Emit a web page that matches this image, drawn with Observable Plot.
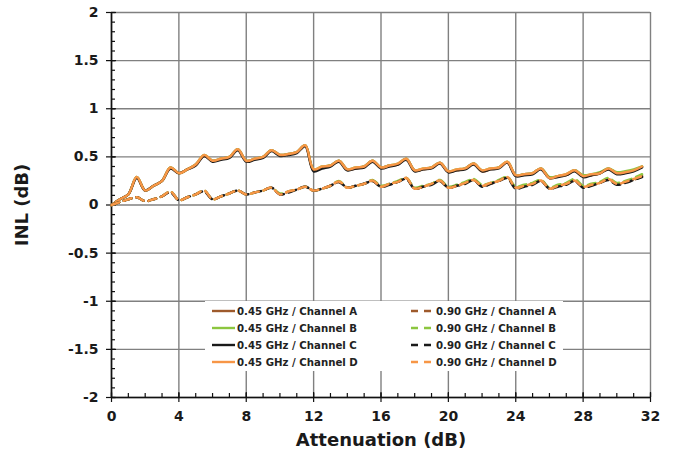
<!DOCTYPE html>
<html><head><meta charset="utf-8">
<script src="https://cdn.jsdelivr.net/npm/d3@7"></script>
<script src="https://cdn.jsdelivr.net/npm/@observablehq/plot@0.6"></script>
<style>
body{margin:0;background:#fff;}
#wrap{position:relative;width:676px;height:460px;}
#legend{position:absolute;left:205px;top:301px;width:358px;height:70px;background:#fff;font-family:"DejaVu Sans",sans-serif;font-weight:bold;font-size:10.2px;color:#222;}
.item{position:absolute;display:flex;align-items:center;height:17px;white-space:nowrap;}
.item svg{margin-right:1px;display:block}
</style></head><body><div id="wrap"><div id="chart"></div><div id="legend"></div></div>
<script>
const attenuation = [0,0.5,1,1.5,2,2.5,3,3.5,4,4.5,5,5.5,6,6.5,7,7.5,8,8.5,9,9.5,10,10.5,11,11.5,12,12.5,13,13.5,14,14.5,15,15.5,16,16.5,17,17.5,18,18.5,19,19.5,20,20.5,21,21.5,22,22.5,23,23.5,24,24.5,25,25.5,26,26.5,27,27.5,28,28.5,29,29.5,30,30.5,31,31.5];

const a045 = [0.00,0.06,0.11,0.29,0.15,0.20,0.25,0.39, 0.33,0.37,0.42,0.51,0.46,0.48,0.50,0.58, 0.46,0.48,0.50,0.57,0.52,0.53,0.55,0.62, 0.36,0.39,0.41,0.46,0.37,0.38,0.40,0.46, 0.39,0.41,0.42,0.48,0.36,0.37,0.39,0.44, 0.35,0.36,0.38,0.43,0.35,0.37,0.39,0.44, 0.31,0.32,0.33,0.38,0.28,0.30,0.31,0.36, 0.30,0.31,0.33,0.38,0.33,0.34,0.36,0.40];
const b045 = [0.00,0.06,0.11,0.29,0.15,0.20,0.25,0.39, 0.33,0.37,0.42,0.52,0.46,0.48,0.50,0.58, 0.46,0.48,0.50,0.57,0.52,0.53,0.55,0.62, 0.37,0.40,0.41,0.46,0.37,0.39,0.40,0.46, 0.39,0.41,0.43,0.48,0.36,0.38,0.39,0.44, 0.35,0.37,0.38,0.43,0.36,0.38,0.39,0.45, 0.31,0.32,0.33,0.38,0.29,0.30,0.32,0.36, 0.31,0.32,0.34,0.38,0.34,0.35,0.37,0.40];
const c045 = [0.00,0.06,0.11,0.28,0.15,0.20,0.25,0.38, 0.33,0.37,0.41,0.51,0.45,0.47,0.49,0.57, 0.45,0.47,0.49,0.56,0.51,0.52,0.54,0.61, 0.35,0.38,0.40,0.45,0.36,0.38,0.39,0.45, 0.38,0.40,0.42,0.47,0.35,0.37,0.38,0.43, 0.34,0.36,0.37,0.42,0.35,0.37,0.38,0.44, 0.30,0.31,0.32,0.37,0.28,0.29,0.31,0.35, 0.29,0.31,0.33,0.37,0.32,0.33,0.35,0.39];
const d045 = [0.00,0.06,0.11,0.29,0.15,0.20,0.25,0.39, 0.33,0.37,0.42,0.52,0.46,0.48,0.50,0.58, 0.46,0.48,0.50,0.57,0.52,0.53,0.55,0.62, 0.37,0.40,0.41,0.46,0.37,0.39,0.40,0.46, 0.39,0.41,0.43,0.48,0.36,0.38,0.39,0.44, 0.35,0.37,0.38,0.43,0.36,0.38,0.39,0.45, 0.31,0.32,0.33,0.38,0.28,0.30,0.32,0.36, 0.30,0.32,0.33,0.38,0.33,0.34,0.36,0.40];

const a090 = [0.00,0.03,0.06,0.08,0.04,0.06,0.09,0.14, 0.05,0.08,0.11,0.15,0.06,0.09,0.12,0.15, 0.11,0.13,0.15,0.18,0.11,0.14,0.16,0.19, 0.15,0.17,0.20,0.24,0.18,0.20,0.22,0.25, 0.19,0.22,0.24,0.28,0.17,0.19,0.22,0.25, 0.18,0.20,0.23,0.26,0.20,0.22,0.25,0.29, 0.18,0.20,0.22,0.25,0.17,0.20,0.22,0.25, 0.19,0.21,0.23,0.27,0.22,0.24,0.26,0.30];
const b090 = [0.00,0.03,0.06,0.08,0.04,0.06,0.09,0.14, 0.05,0.08,0.11,0.15,0.06,0.09,0.12,0.15, 0.11,0.13,0.15,0.18,0.12,0.14,0.16,0.19, 0.15,0.17,0.20,0.25,0.18,0.20,0.22,0.26, 0.20,0.22,0.25,0.28,0.18,0.20,0.22,0.26, 0.19,0.21,0.24,0.27,0.21,0.23,0.26,0.29, 0.19,0.21,0.23,0.26,0.18,0.21,0.23,0.27, 0.20,0.22,0.24,0.28,0.23,0.25,0.28,0.32];
const c090 = [0.00,0.03,0.06,0.08,0.04,0.06,0.09,0.13, 0.05,0.08,0.11,0.14,0.06,0.09,0.12,0.15, 0.11,0.13,0.15,0.18,0.11,0.13,0.16,0.19, 0.15,0.17,0.20,0.24,0.18,0.20,0.22,0.25, 0.19,0.21,0.24,0.27,0.17,0.19,0.21,0.25, 0.18,0.20,0.22,0.26,0.19,0.22,0.25,0.28, 0.17,0.19,0.21,0.25,0.17,0.19,0.21,0.25, 0.18,0.20,0.23,0.26,0.21,0.23,0.26,0.29];
const d090 = [0.00,0.03,0.06,0.08,0.04,0.06,0.09,0.14, 0.05,0.08,0.11,0.15,0.06,0.09,0.12,0.15, 0.11,0.13,0.15,0.18,0.11,0.14,0.16,0.19, 0.15,0.17,0.20,0.245,0.18,0.20,0.22,0.255, 0.19,0.22,0.24,0.28,0.17,0.19,0.22,0.255, 0.18,0.20,0.23,0.26,0.20,0.23,0.25,0.29, 0.18,0.20,0.22,0.255,0.17,0.20,0.22,0.255, 0.19,0.21,0.23,0.27,0.22,0.24,0.27,0.30];

const seriesNames = ["0.45 GHz / Channel A","0.45 GHz / Channel B","0.45 GHz / Channel C","0.45 GHz / Channel D","0.90 GHz / Channel A","0.90 GHz / Channel B","0.90 GHz / Channel C","0.90 GHz / Channel D"];
const seriesValues = [a045,b045,c045,d045,a090,b090,c090,d090];
const channelColors = ["#9E5A2C","#8CC63F","#1A1A1A","#F79646"];

const xTicks = [0,4,8,12,16,20,24,28,32];
const yTicks = [-2,-1.5,-1,-0.5,0,0.5,1,1.5,2];
const xMinor = d3.range(0,33,1);
const yMinor = d3.range(-20,21,1).map(d => d/10);

const W = 676, H = 460, ML = 111, MR = 26, MT = 12, MB = 63;
const FW = W - ML - MR, FH = H - MT - MB;
const gridColor = "#808080";

const lineMarks = seriesNames.map((name, i) => {
  const data = attenuation.map((x, j) => ({x, y: seriesValues[i][j]}));
  return Plot.line(data, {
    x: "x", y: "y",
    stroke: channelColors[i % 4],
    strokeWidth: 2.5,
    strokeDasharray: i >= 4 ? "8,5" : null,
    curve: "catmull-rom"
  });
});

const chart = Plot.plot({
  width: W, height: H,
  marginLeft: ML, marginRight: MR, marginTop: MT, marginBottom: MB,
  x: {domain: [0, 32]},
  y: {domain: [-2, 2]},
  style: {fontFamily: "'DejaVu Sans', sans-serif", fontWeight: "bold", fontSize: "14px", color: "#1a1a1a", background: "#fff"},
  marks: [
    Plot.gridX(xTicks, {stroke: gridColor, strokeOpacity: 1, strokeWidth: 1.4}),
    Plot.gridY(yTicks, {stroke: gridColor, strokeOpacity: 1, strokeWidth: 1.4}),
    Plot.ruleX(xMinor, {insetTop: FH - 4, stroke: "#111", strokeWidth: 1.2}),
    Plot.ruleX(xTicks, {insetTop: FH - 5, insetBottom: -5, stroke: "#111", strokeWidth: 1.2}),
    Plot.ruleY(yMinor, {insetRight: FW - 4, stroke: "#111", strokeWidth: 1.2}),
    Plot.ruleY(yTicks, {insetRight: FW - 5, insetLeft: -5, stroke: "#111", strokeWidth: 1.2}),
    Plot.axisX(xTicks, {tickSize: 0, tickPadding: 14, label: null, fontWeight: "bold", fontSize: 14}),
    Plot.axisY(yTicks, {tickSize: 0, tickPadding: 13, label: null, fontWeight: "bold", fontSize: 14, tickFormat: d => String(d)}),
    Plot.ruleX([0], {stroke: "#111", strokeWidth: 1.6}),
    Plot.ruleY([-2], {stroke: "#111", strokeWidth: 1.6}),
    ...lineMarks,
    Plot.text(["Attenuation (dB)"], {frameAnchor: "bottom", dy: 43, lineAnchor: "middle", textAnchor: "middle", fontSize: 18, fontWeight: "bold"}),
    Plot.text(["INL (dB)"], {frameAnchor: "left", dx: -89, rotate: -90, lineAnchor: "middle", textAnchor: "middle", fontSize: 18, fontWeight: "bold"})
  ]
});
document.getElementById("chart").appendChild(chart);

// legend
const legend = document.getElementById("legend");
seriesNames.forEach((name, i) => {
  const col = i >= 4 ? 1 : 0;
  const row = i % 4;
  const item = document.createElement("div");
  item.className = "item";
  item.style.left = (col ? 206 : 7) + "px";
  item.style.top = (1.5 + row * 17) + "px";
  const dash = col ? 'stroke-dasharray="7,6"' : "";
  item.innerHTML = `<svg width="24" height="4"><line x1="0" y1="2" x2="23" y2="2" stroke="${channelColors[row]}" stroke-width="2.4" ${dash}/></svg><span>${name}</span>`;
  legend.appendChild(item);
});
</script>
</body></html>
